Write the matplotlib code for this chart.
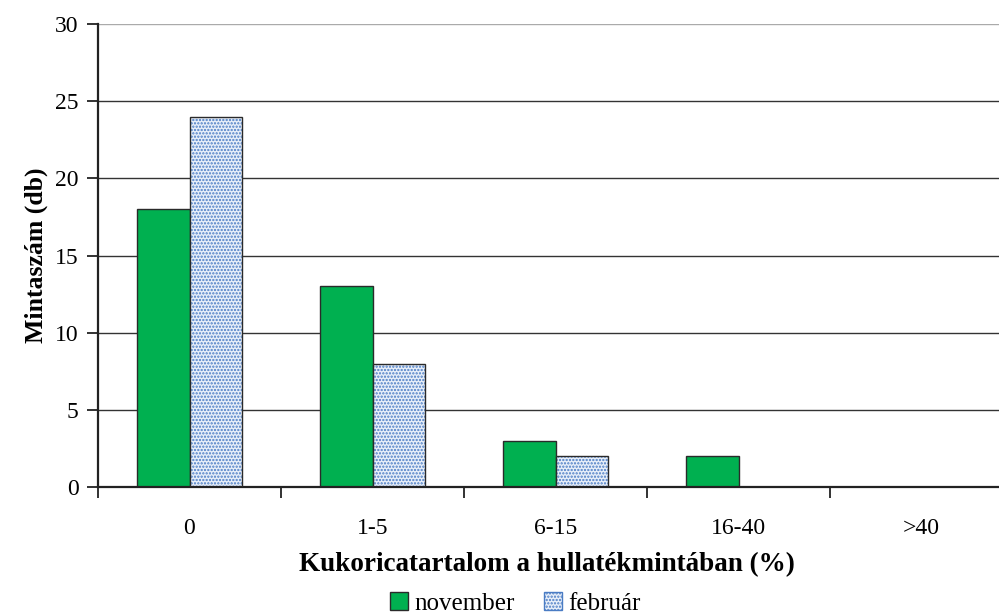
import matplotlib
matplotlib.use("Agg")
import matplotlib.pyplot as plt
import numpy as np
from matplotlib.patches import Patch

categories = ["0", "1-5", "6-15", "16-40", ">40"]
november = [18, 13, 3, 2, 0]
februar = [24, 8, 2, 0, 0]
series_names = ["november", "február"]
yticks = [0, 5, 10, 15, 20, 25, 30]

plt.rcParams['font.family'] = ['Liberation Serif', 'DejaVu Serif']
plt.rcParams['hatch.linewidth'] = 1.1

fig = plt.figure(figsize=(9.99, 6.12), dpi=100)
ax = fig.add_axes([98/999, 1-487/612, 915/999, (487-24)/612])

x = np.arange(len(categories))
w = 0.285
green = '#00b050'
blue = '#4a7cc4'
bg = '#e8eff9'
edge = '#2a2a2a'
hatch = '.....'

for yv in yticks[1:]:
    ax.axhline(yv, color='#aaaaaa' if yv == 30 else '#333333', lw=1.0, zorder=0)

ax.bar(x - w/2, november, w, color=green, edgecolor=edge, lw=1.0, zorder=2)
ax.bar(x + w/2, februar, w, facecolor=bg, edgecolor=blue, hatch=hatch, lw=0, zorder=2)
ax.bar(x + w/2, februar, w, fill=False, edgecolor=edge, lw=1.0, zorder=3)

ax.set_xlim(-0.5, len(categories) - 0.5)
ax.set_ylim(0, 30)
ax.set_yticks(yticks)
ax.set_yticklabels([str(v) for v in yticks], fontsize=17)
ax.set_xticks(x)
ax.set_xticklabels(categories, fontsize=17)
ax.set_xticks(np.arange(len(categories) + 1) - 0.5, minor=True)
ax.tick_params(axis='x', which='major', length=0, pad=22)
ax.tick_params(axis='x', which='minor', length=8, width=1.3, direction='out', color='#222222')
ax.tick_params(axis='y', length=8, width=1.3, direction='out', color='#222222', pad=6)

for s in ['top', 'right']:
    ax.spines[s].set_visible(False)
for s in ['left', 'bottom']:
    ax.spines[s].set_linewidth(1.6)
    ax.spines[s].set_color('#222222')

ax.set_ylabel("Mintaszám (db)", fontsize=18.5, fontweight='bold', labelpad=5)
ax.set_xlabel("Kukoricatartalom a hullatékmintában (%)", fontsize=19.5, fontweight='bold')
ax.xaxis.set_label_coords((547/999 - 98/999) / (915/999), -0.14)

handles = [Patch(facecolor=green, edgecolor=edge, lw=1.0),
           Patch(facecolor=bg, edgecolor=blue, hatch=hatch, lw=1.0)]
fig.legend(handles, series_names, loc='center', bbox_to_anchor=(0.516, 0.014), ncol=2,
           frameon=False, fontsize=18, handlelength=0.7, handleheight=0.7,
           handletextpad=0.25, columnspacing=1.2)

fig.savefig("out.png", dpi=100)
